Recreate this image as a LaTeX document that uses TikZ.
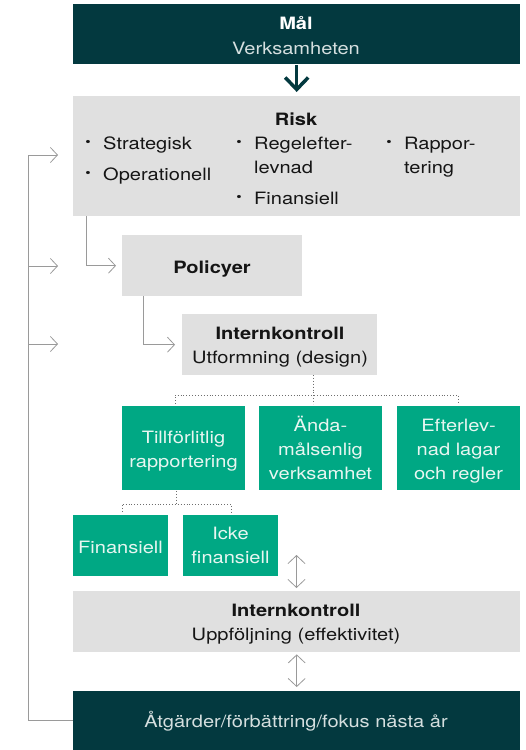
\documentclass[tikz,border=0pt]{standalone}
\usepackage{fontspec}
\setmainfont{TeX Gyre Heros}[FakeStretch=1.18]
\usetikzlibrary{arrows.meta}
\definecolor{darkteal}{HTML}{03393F}
\definecolor{brandgreen}{HTML}{00A884}
\definecolor{lightgray}{HTML}{E0E0E0}
\definecolor{linegray}{HTML}{9A9A9A}
\definecolor{dotgray}{HTML}{6E6E6E}
\definecolor{paletext}{HTML}{D5DFDF}
\definecolor{greentext}{HTML}{E8F6F1}
\definecolor{inktext}{HTML}{151515}
\begin{document}
\begin{tikzpicture}[x=1pt,y=-1pt,
  boxbase/.style={rectangle, draw=none, inner sep=0pt, anchor=north west},
  darkbox/.style={boxbase, fill=darkteal},
  graybox/.style={boxbase, fill=lightgray},
  greenbox/.style={boxbase, fill=brandgreen},
  txt/.style={inner sep=0pt, anchor=base, font=\fontsize{17}{24}\selectfont, text=inktext},
  txtl/.style={txt, anchor=base west},
  boldtxt/.style={txt, font=\fontsize{17}{24}\selectfont\bfseries},
  gtxt/.style={txt, text=greentext},
  bul/.style={inner sep=0pt, font=\fontsize{13}{13}\selectfont, text=inktext},
  feed/.style={draw=linegray, line width=0.8pt, -{Straight Barb[length=7pt,width=15pt]}},
  dbl/.style={draw=linegray, line width=0.8pt, {Straight Barb[length=8pt,width=17pt]}-{Straight Barb[length=8pt,width=17pt]}},
  dotline/.style={draw=dotgray, line width=0.8pt, dash pattern=on 0.9pt off 2pt}
]
\useasboundingbox (0,0) rectangle (526,750);

% boxes
\node[darkbox, minimum width=447pt, minimum height=60pt] (mal) at (73,4) {};
\node[graybox, minimum width=447pt, minimum height=120pt] (risk) at (73,96) {};
\node[graybox, minimum width=180pt, minimum height=61pt] (policy) at (122,235) {};
\node[graybox, minimum width=195pt, minimum height=61pt] (ikd) at (182,314) {};
\node[greenbox, minimum width=123pt, minimum height=84pt] (till) at (122,406) {};
\node[greenbox, minimum width=123pt, minimum height=84pt] (anda) at (259,406) {};
\node[greenbox, minimum width=123pt, minimum height=84pt] (efter) at (397,406) {};
\node[greenbox, minimum width=95pt, minimum height=61pt] (fin) at (73,515) {};
\node[greenbox, minimum width=95pt, minimum height=61pt] (icke) at (183,515) {};
\node[graybox, minimum width=447pt, minimum height=61pt] (iku) at (73,591) {};
\node[darkbox, minimum width=447pt, minimum height=59pt] (atg) at (73,691) {};

% texts
\node[boldtxt, text=white] (malA) at (296,29) {Mål};
\node[txt, text=paletext] (malB) at (296,54) {Verksamheten};

\node[boldtxt] (riskT) at (296,125) {Risk};
\node[bul] (b1) at (88,143) {\textbullet};
\node[txtl] (r1) at (103,149) {Strategisk};
\node[bul] (b2) at (88,174) {\textbullet};
\node[txtl] (r2) at (103,180) {Operationell};
\node[bul] (b3) at (239,143) {\textbullet};
\node[txtl] (r3a) at (254,149) {Regelefter-};
\node[txtl] (r3b) at (254,173) {levnad};
\node[bul] (b4) at (239,198) {\textbullet};
\node[txtl] (r4) at (254,204) {Finansiell};
\node[bul] (b5) at (389,143) {\textbullet};
\node[txtl] (r5a) at (404,149) {Rappor-};
\node[txtl] (r5b) at (404,173) {tering};

\node[boldtxt] (polT) at (212,273) {Policyer};
\node[boldtxt] (ikdA) at (280,339) {Internkontroll};
\node[txt] (ikdB) at (280,363) {Utformning (design)};

\node[gtxt] (tillA) at (183.5,443) {Tillförlitlig};
\node[gtxt] (tillB) at (183.5,467) {rapportering};
\node[gtxt] (andaA) at (320.5,431) {Ända-};
\node[gtxt] (andaB) at (320.5,455) {målsenlig};
\node[gtxt] (andaC) at (320.5,479) {verksamhet};
\node[gtxt] (efterA) at (458.5,431) {Efterlev-};
\node[gtxt] (efterB) at (458.5,455) {nad lagar};
\node[gtxt] (efterC) at (458.5,479) {och regler};
\node[gtxt] (finT) at (120.5,553) {Finansiell};
\node[gtxt] (ickeA) at (230.5,539) {Icke};
\node[gtxt] (ickeB) at (230.5,563) {finansiell};

\node[boldtxt] (ikuA) at (296,616) {Internkontroll};
\node[txt] (ikuB) at (296,640) {Uppföljning (effektivitet)};
\node[txt, text=paletext] (atgT) at (296,727) {Åtgärder/förbättring/fokus nästa år};

% main arrow
\draw[darkteal, line width=3.5pt, -{Straight Barb[length=12pt,width=23pt]}, shorten <=1pt, shorten >=4pt] (mal.south) -- (risk.north);

% feedback loop
\coordinate (fbtop) at (28,155);
\coordinate (fbend1) at (58,155);
\coordinate (fbmid2) at (28,266);
\coordinate (fbend2) at (58,266);
\coordinate (fbmid3) at (28,344);
\coordinate (fbend3) at (58,344);
\draw[feed] (atg.west) -| (fbtop) -- (fbend1);
\draw[feed] (fbmid2) -- (fbend2);
\draw[feed] (fbmid3) -- (fbend3);

% risk -> policy -> internkontroll
\draw[feed] ([xshift=13pt]risk.south west) |- ([xshift=-6pt]policy.west);
\draw[feed] ([xshift=21pt]policy.south west) |- ([xshift=-7pt]ikd.west);

% dotted tree 1
\coordinate (d1top) at (313,375);
\coordinate (d1mid) at (313,395);
\coordinate (d1l) at (175,395);
\coordinate (d1r) at (458,395);
\coordinate (d1lt) at (175,404);
\coordinate (d1mt) at (313,404);
\coordinate (d1rt) at (458,404);
\draw[dotline] (d1top) -- (d1mt);
\draw[dotline] (d1lt) -- (d1l) -- (d1r) -- (d1rt);

% dotted tree 2
\coordinate (d2top) at (176,491);
\coordinate (d2mid) at (176,504);
\coordinate (d2l) at (122,504);
\coordinate (d2r) at (231,504);
\coordinate (d2lt) at (122,512);
\coordinate (d2rt) at (231,512);
\draw[dotline] (d2top) -- (d2mid);
\draw[dotline] (d2lt) -- (d2l) -- (d2r) -- (d2rt);

% double arrows
\coordinate (dA) at (296.5,555);
\draw[dbl, shorten >=3pt] (dA) -- (dA |- iku.north);
\draw[dbl] ([yshift=-2pt]iku.south) -- ([yshift=4pt]atg.north);
\end{tikzpicture}
\end{document}
